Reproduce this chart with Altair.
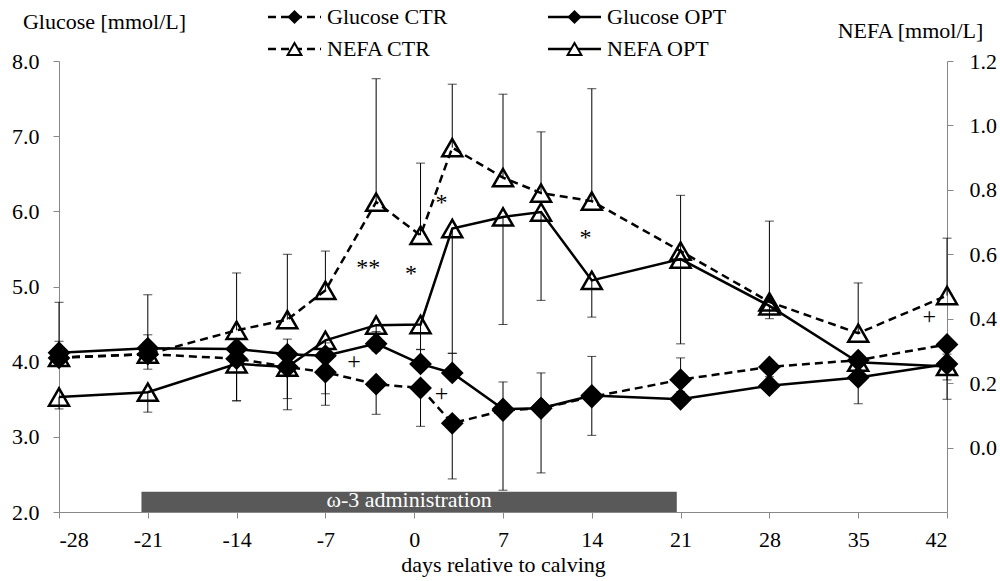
import altair as alt
import pandas as pd

FONT = "Liberation Serif"
AXIS_GRAY = "#888888"

# sampling days relative to calving
days = [-28, -21, -14, -10, -7, -3, 0.5, 3, 7, 10, 14, 21, 28, 35, 42]

# group means
glucose_ctr = [4.05, 4.10, 4.04, 3.93, 3.86, 3.70, 3.65, 3.18, 3.35, 3.38, 3.53, 3.76, 3.93, 4.02, 4.23]
glucose_opt = [4.12, 4.18, 4.17, 4.10, 4.08, 4.24, 3.97, 3.85, 3.37, 3.38, 3.55, 3.50, 3.68, 3.79, 3.97]
nefa_ctr = [0.280, 0.290, 0.364, 0.397, 0.488, 0.762, 0.659, 0.931, 0.838, 0.790, 0.765, 0.610, 0.452, 0.355, 0.472]
nefa_opt = [0.157, 0.172, 0.260, 0.250, 0.333, 0.380, 0.382, 0.680, 0.716, 0.731, 0.519, 0.585, 0.440, 0.265, 0.252]

# standard deviations (CTR glucose and OPT NEFA shown below the mean, the others above)
glucose_ctr_sd = [0.10, 0.20, 0.56, 0.57, 0.44, 0.40, 0.51, 0.74, 1.06, 0.86, 0.51, 0.16, 0.13, 0.58, 0.73]
glucose_opt_sd = [0.67, 0.71, 0.13, 0.20, 0.17, 0.16, 0.19, 0.26, 0.36, 0.47, 0.52, 0.55, 0.17, 0.16, 0.13]
nefa_ctr_sd = [0.050, 0.060, 0.178, 0.203, 0.122, 0.383, 0.224, 0.197, 0.259, 0.190, 0.349, 0.173, 0.251, 0.156, 0.178]
nefa_opt_sd = [0.037, 0.062, 0.115, 0.098, 0.166, 0.080, 0.077, 0.387, 0.334, 0.274, 0.114, 0.263, 0.040, 0.045, 0.042]

x_ticks = [-28, -21, -14, -7, 0, 7, 14, 21, 28, 35, 42]
glucose_ticks = [2, 3, 4, 5, 6, 7, 8]
nefa_ticks = [0.0, 0.2, 0.4, 0.6, 0.8, 1.0, 1.2]

# supplementation window
treatment_label = "ω-3 administration"
treatment_days = [-21.5, 20.7]

# significance marks
ann_text = ["**", "*", "*", "*", "+", "+", "+"]
ann_day = [-3.63, -0.26, 2.15, 13.5, -4.75, 2.15, 40.6]
ann_glucose = [5.24, 5.17, 6.11, 5.64, 3.99, 3.57, 4.60]


def build(values, sds, sign, group):
    return pd.DataFrame({
        "day": days,
        "value": values,
        "end": [v + sign * s for v, s in zip(values, sds)],
        "group": group,
    })


glu = pd.concat([build(glucose_ctr, glucose_ctr_sd, -1, "CTR"),
                 build(glucose_opt, glucose_opt_sd, 1, "OPT")])
nefa = pd.concat([build(nefa_ctr, nefa_ctr_sd, 1, "CTR"),
                  build(nefa_opt, nefa_opt_sd, -1, "OPT")])

x_scale = alt.Scale(domain=[-28, 42], nice=False, zero=False)
x_axis = alt.Axis(values=x_ticks, labelExpr="'' + datum.value",
                  title="days relative to calving", grid=False,
                  labelFont=FONT, labelFontSize=22, labelColor="black",
                  labelBaseline="alphabetic", labelPadding=28,
                  titleFont=FONT, titleFontSize=22, titleFontWeight="normal",
                  titleColor="black", titleBaseline="alphabetic", titleY=59,
                  domainColor=AXIS_GRAY, tickColor=AXIS_GRAY, tickSize=6)

g_scale = alt.Scale(domain=[2, 8], nice=False, zero=False)
g_axis = alt.Axis(orient="left", values=glucose_ticks, format=".1f", grid=False,
                  labelFont=FONT, labelFontSize=22, labelColor="black", labelPadding=14,
                  domainColor=AXIS_GRAY, tickColor=AXIS_GRAY, tickSize=6,
                  title="Glucose [mmol/L]", titleAngle=0, titleAlign="center",
                  titleBaseline="alphabetic", titleX=45, titleY=-33,
                  titleFont=FONT, titleFontSize=22, titleFontWeight="normal", titleColor="black")

n_scale = alt.Scale(domain=[-0.2, 1.2], nice=False, zero=False)
n_axis = alt.Axis(orient="right", values=nefa_ticks, format=".1f", grid=False,
                  labelFont=FONT, labelFontSize=22, labelColor="black", labelPadding=16,
                  domainColor=AXIS_GRAY, tickColor=AXIS_GRAY, tickSize=6,
                  title="NEFA [mmol/L]", titleAngle=0, titleAlign="center",
                  titleBaseline="alphabetic", titleX=-37, titleY=-24,
                  titleFont=FONT, titleFontSize=22, titleFontWeight="normal", titleColor="black")


def X(field="day"):
    return alt.X(f"{field}:Q", scale=x_scale, axis=x_axis)


DASH = [8, 5]


def series_layers(df, scale, axis, shape, filled, size):
    def Y(field):
        return alt.Y(f"{field}:Q", scale=scale, axis=axis)

    base = alt.Chart(df)
    bars = base.mark_rule(color="black", strokeWidth=1).encode(
        x=X(), y=Y("value"), y2="end:Q")
    caps = base.mark_tick(color="black", orient="horizontal", size=9, thickness=1).encode(
        x=X(), y=Y("end"))
    ctr = base.transform_filter(alt.datum.group == "CTR").mark_line(
        color="black", strokeWidth=2.5, strokeDash=DASH).encode(x=X(), y=Y("value"))
    opt = base.transform_filter(alt.datum.group == "OPT").mark_line(
        color="black", strokeWidth=2.5).encode(x=X(), y=Y("value"))
    if filled:
        pts = base.mark_point(shape=shape, filled=True, color="black", size=size, opacity=1)
    else:
        pts = base.mark_point(shape=shape, filled=False, stroke="black", strokeWidth=2.5,
                              size=size, opacity=1)
    pts = pts.encode(x=X(), y=Y("value"))
    return [bars, caps, ctr, opt, pts]


# glucose panel, including the treatment bar
treat = pd.DataFrame({"start": [treatment_days[0]], "stop": [treatment_days[1]],
                      "mid": [sum(treatment_days) / 2], "label": [treatment_label],
                      "top": [2.27], "bottom": [2.0]})
treat_bar = alt.Chart(treat).mark_rect(color="#595959").encode(
    x=X("start"), x2="stop:Q",
    y=alt.Y("top:Q", scale=g_scale, axis=g_axis), y2="bottom:Q")
treat_text = alt.Chart(treat).mark_text(font=FONT, fontSize=22, color="white",
                                        baseline="alphabetic").encode(
    x=X("mid"), y=alt.value(446), text="label:N")

ann = pd.DataFrame({"t": ann_text, "day": ann_day, "g": ann_glucose})
ann_layer = alt.Chart(ann).mark_text(font=FONT, fontSize=24, color="black",
                                     baseline="middle").encode(
    x=X(), y=alt.Y("g:Q", scale=g_scale, axis=g_axis), text="t:N")

glucose_layer = alt.layer(
    treat_bar, treat_text,
    *series_layers(glu, g_scale, g_axis, "diamond", True, 520),
    ann_layer,
)

nefa_layer = alt.layer(
    *series_layers(nefa, n_scale, n_axis, "triangle-up", False, 400),
)

# legend drawn above the plot
legend_entries = [
    ("Glucose CTR", "diamond", True, DASH, 209, -44),
    ("NEFA CTR", "triangle-up", False, DASH, 209, -12),
    ("Glucose OPT", "diamond", True, None, 489, -44),
    ("NEFA OPT", "triangle-up", False, None, 489, -12),
]
legend_layers = []
for name, shape, filled, dash, lx, ly in legend_entries:
    src = alt.Chart(pd.DataFrame({"label": [name]}))
    line_kw = dict(color="black", strokeWidth=2.5)
    if dash:
        line_kw["strokeDash"] = dash
    legend_layers.append(src.mark_rule(**line_kw).encode(
        x=alt.value(lx), x2=alt.value(lx + 53), y=alt.value(ly)))
    if filled:
        mk = src.mark_point(shape=shape, filled=True, color="black", size=200, opacity=1)
    else:
        mk = src.mark_point(shape=shape, filled=True, fill="white", stroke="black",
                            strokeWidth=2, size=190, opacity=1)
    legend_layers.append(mk.encode(x=alt.value(lx + 26.5), y=alt.value(ly)))
    legend_layers.append(src.mark_text(font=FONT, fontSize=22, color="black", align="left",
                                       baseline="middle").encode(
        x=alt.value(lx + 59), y=alt.value(ly), text="label:N"))

chart = alt.layer(nefa_layer, glucose_layer, *legend_layers).resolve_scale(
    y="independent"
).properties(
    width=888, height=451,
    autosize=alt.AutoSizeParams(type="none"),
    padding={"left": 59, "top": 61, "right": 53, "bottom": 69},
    background="white",
).configure_view(stroke=None)

chart.save("out.html", embed_options={"renderer": "svg", "actions": False})
